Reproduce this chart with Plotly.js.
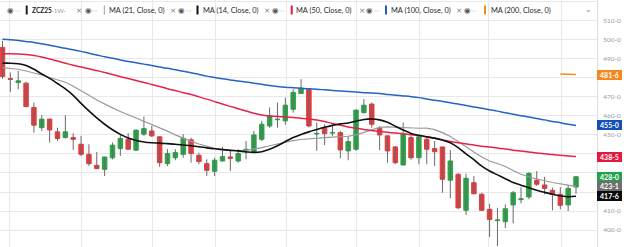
<!DOCTYPE html>
<html><head><meta charset="utf-8">
<script src="https://cdn.plot.ly/plotly-3.0.1.min.js"></script>
<style>html,body{margin:0;padding:0;background:#fff;overflow:hidden}#chart{width:624px;height:247px}</style>
</head><body><div id="chart"></div>
<script>
// ---- data (weekly ZCZ25 candles, oldest first) ----
const opens  = [496,479.6,477.5,477.2,464.4,453.8,458.3,451.6,448.6,448.6,445.1,439.8,434,431.9,438,442.8,447.7,442,450.4,452.1,449,434.9,438,439.8,447.4,439.3,434.9,430.9,436.3,438.4,436.3,442,441.2,447.7,454.7,458,457.4,463.5,471.8,474,450.5,453.5,451,451.2,441.6,442.5,461.7,466.2,453.5,449.5,443.7,434.2,448.6,438,447.7,442.8,443.7,426.2,429.3,410.4,424.9,418.8,410.9,405,404.4,413.2,416,417.4,426.2,423.7,420.9,418.8,413.2,422.6];
const highs  = [499.5,482.8,483.7,477.9,467,460.4,458.5,453.8,460.4,450.9,449.5,445.1,441,438.4,446,450.4,450.9,452.8,459.6,454.7,449.3,442.5,442.5,450.4,448.6,440.7,437.2,438,443.7,441.6,442.5,446.8,452.1,457.4,464.4,467,469.6,474,479.3,474.5,456.5,455.6,455.6,452.1,449.5,463.5,468.8,467,454.7,449.5,444,456.5,449.5,449.5,449,446.8,443.7,442,429.8,429.6,428.4,419.6,413.8,411.7,413.5,420.5,422.5,430.4,431,427.9,422.3,422.6,423.7,428.4];
const lows   = [479.5,472.6,474,464.5,451.2,452.1,446,446.8,448.1,442.1,438.9,433.7,432,428.4,437.2,439,442.1,441.6,449.5,448.9,433.2,433.7,436.7,438,435.4,434.6,428.4,428.4,436,431,435.4,437.2,440.7,446.8,453.8,453.8,455.3,461.7,471.5,454,441.6,444.7,449.5,437.7,436.7,441.6,461.2,453.8,442,435.4,434.6,434,437,434.6,434.6,433.7,419.6,416.7,411,407.9,418.8,410,396.3,391.6,401,403.5,414,416.2,423.2,418.8,410.4,410.9,410,419.1];
const closes = [480.7,479.2,478.4,464.9,455.1,458.3,452.6,448.1,451.6,447.7,439.8,434.9,432.3,438.4,444.6,448.1,442.5,452.5,453.3,449.5,435.4,440.2,440.7,448.2,440.2,436,431.4,436.7,438.6,437.7,440.2,442.4,450,455.6,460,458.2,465.6,472.3,474.6,454.7,450.8,450.7,451.2,442.1,446.5,463,465.6,455.6,450,441.6,435.4,450.4,438,449,442.5,441.2,426.7,436.3,411.7,427.2,419.1,410.4,405.6,405.3,411.2,419.6,416.4,429.8,424.1,421.9,418.8,413,421.9,428];

const ma14  = [487.7,487.7,487.4,486.5,484.5,482.0,479.7,477.0,474.2,470.8,466.6,462.6,458.9,455.6,452.7,450.3,448.4,447.1,446.3,445.9,445.7,445.4,445.1,444.7,444.3,443.8,443.2,442.7,442.3,441.9,441.6,441.1,440.8,441.2,442.5,444.3,446.5,448.6,450.2,451.6,452.8,454.0,455.0,455.8,456.3,457.2,458.1,458.4,457.9,456.6,454.6,452.6,450.8,449.8,449.0,448.3,447.3,445.9,443.3,440.0,437.0,433.6,431.0,429.0,427.0,425.0,423.6,422.2,420.9,419.8,418.8,418.0,417.5,417.75];
const ma21  = [485.4,485.0,484.5,483.6,482.7,481.5,480.2,478.9,477.7,475.6,473.4,470.9,468.3,466.1,464.2,462.3,460.6,458.8,457.1,455.6,454.0,452.0,450.0,448.2,446.6,445.2,443.9,442.9,442.1,441.7,441.6,441.9,442.5,443.3,444.3,445.3,446.3,447.0,447.6,448.0,448.3,448.6,448.8,449.0,449.3,450.0,451.2,452.7,454.0,454.2,454.0,453.8,453.6,453.5,453.6,452.8,451.2,449.2,446.6,443.6,441.0,438.4,436.3,435.0,433.4,431.3,429.3,427.9,426.8,425.9,425.0,424.2,423.6,423.125];
const ma50  = [492.6,492.6,492.5,492.2,491.7,490.9,489.9,488.8,487.7,486.6,485.7,484.8,483.8,482.8,481.7,480.6,479.6,478.6,477.6,476.5,475.4,474.3,473.3,472.2,471.2,470.0,468.8,467.5,466.2,465.0,463.8,462.6,461.4,460.5,460.0,459.7,459.4,459.1,458.8,458.4,457.8,457.0,456.0,455.1,454.2,453.5,452.9,452.3,451.8,451.4,451.0,450.6,450.1,449.6,449.0,448.2,447.4,446.6,445.9,445.3,444.7,444.1,443.6,443.1,442.6,442.0,441.5,441.0,440.5,440.1,439.7,439.3,438.9,438.625];
const ma100 = [500.3,500.0,499.6,499.1,498.6,497.9,497.1,496.3,495.5,494.8,493.9,492.9,492.0,491.1,490.3,489.4,488.6,487.9,487.2,486.5,485.7,485.0,484.2,483.5,482.7,481.8,480.9,480.2,479.5,478.9,478.3,477.8,477.2,476.6,476.0,475.5,475.1,474.8,474.5,474.2,474.0,473.7,473.4,473.1,472.8,472.5,472.2,472.0,471.7,471.3,470.9,470.5,470.1,469.6,468.9,468.2,467.6,466.9,466.2,465.5,464.7,464.0,463.2,462.5,461.6,460.9,460.1,459.4,458.6,457.9,457.1,456.4,455.6,455.0];
const ma200 = [null,null,null,null,null,null,null,null,null,null,null,null,null,null,null,null,null,null,null,null,null,null,null,null,null,null,null,null,null,null,null,null,null,null,null,null,null,null,null,null,null,null,null,null,null,null,null,null,null,null,null,null,null,null,null,null,null,null,null,null,null,null,null,null,null,null,null,null,null,null,null,482.0,481.9,481.75];

// tick labels (those hidden behind the price boxes in the reference are left blank)
const priceTicks = [400,410,420,430,440,450,460,470,480,490,500,510,520];
const priceTickText = ['400-0','410-0','','','','450-0','460-0','470-0','','490-0','500-0','510-0','520-0'];
const monthGrid = [0.95,10,19.03,27.05,36.1,45.1,53.1,61.9,71.2];

const labelValues = [481.75,455.0,438.625,428.0,423.125,417.75];
const labelTexts  = ['481-6','455-0','438-5','428-0','423-1','417-6'];
const labelColors = ['#f5871f','#1150b8','#e5173f','#22a34a','#6e6e6e','#0a0a0a'];

const legendNames = ['ZCZ25','MA (21, Close, 0)','MA (14, Close, 0)','MA (50, Close, 0)','MA (100, Close, 0)','MA (200, Close, 0)'];
const legendColors = ['#222222','#9a9a9a','#111111','#e5173f','#1f5fc4','#f5871f'];

// ---- build ----
const idx = opens.map((_, i) => i);
const GREEN = '#27a547', RED = '#e63a3d';

const wx = [], wy = [];
idx.forEach(i => { wx.push(i, i, null); wy.push(lows[i], highs[i], null); });

const bodyHi = idx.map(i => Math.max(opens[i], closes[i]));
const bodyLo = idx.map(i => Math.min(opens[i], closes[i]));

const traces = [
  {type:'scatter', mode:'lines', x:wx, y:wy, line:{color:'#6a6a6a', width:1}, hoverinfo:'skip'},
  {type:'candlestick', x:idx, open:opens, high:bodyHi, low:bodyLo, close:closes,
   increasing:{line:{color:GREEN, width:1}, fillcolor:GREEN},
   decreasing:{line:{color:RED, width:1}, fillcolor:RED}, whiskerwidth:0, hoverinfo:'skip'},
  {type:'scatter', mode:'lines', x:idx, y:ma21, line:{color:'#9a9a9a', width:1.2}, hoverinfo:'skip'},
  {type:'scatter', mode:'lines', x:idx, y:ma50, line:{color:'#e5234a', width:1.5, shape:'spline'}, hoverinfo:'skip'},
  {type:'scatter', mode:'lines', x:idx, y:ma100, line:{color:'#2563c4', width:1.5, shape:'spline'}, hoverinfo:'skip'},
  {type:'scatter', mode:'lines', x:idx, y:ma14, line:{color:'#111111', width:1.6, shape:'spline'}, hoverinfo:'skip'},
  {type:'scatter', mode:'lines', x:idx, y:ma200, line:{color:'#f5871f', width:1.3}, hoverinfo:'skip'}
];

const PW = 597, PH = 247;
const px = p => p / PW;
const ly = 1 - 10 / PH;
const annotations = [];
const shapes = [];
function txt(p, t, o) {
  annotations.push(Object.assign({xref:'paper', yref:'paper', x:px(p), y:ly, text:t, showarrow:false,
    xanchor:'left', yanchor:'middle', font:{family:'Lato, sans-serif', size:7.4, color:'#2a2a2a'}}, o || {}));
}
const legendX = [
  {eye:10.7, dots:18.3, bar:26.7, text:30.2, x:null},
  {eye:88.3, dots:95, bar:104.3, text:107.3, x:79.3},
  {eye:181.5, dots:188.5, bar:197.5, text:200.8, x:173},
  {eye:275, dots:281.7, bar:291.7, text:294.3, x:266.7},
  {eye:370, dots:377.3, bar:386, text:388.6, x:362.3},
  {eye:467, dots:474, bar:485, text:488.5, x:459}
];
legendNames.forEach((name, k) => {
  const L = legendX[k];
  if (L.x !== null) txt(L.x, '×', {xanchor:'center', font:{family:'DejaVu Sans', size:7.5, color:'#777'}});
  txt(L.eye, '◉', {xanchor:'center', font:{family:'DejaVu Sans', size:7.5, color:'#555'}});
  txt(L.dots, '···', {xanchor:'center', font:{family:'DejaVu Sans', size:6, color:'#777'}});
  shapes.push({type:'rect', xref:'paper', yref:'paper', x0:px(L.bar - (k === 1 ? 0.5 : 1)), x1:px(L.bar + (k === 1 ? 0.5 : 1)),
    y0:1 - 14.5 / PH, y1:1 - 5.5 / PH, fillcolor:legendColors[k], line:{width:0}});
  if (k === 0) {
    txt(L.text, name, {font:{family:'Lato, sans-serif', size:6.6, color:'#222', weight:700}});
    txt(49.5, '·1W·', {font:{family:'Lato, sans-serif', size:6.3, color:'#999'}});
  } else {
    txt(L.text, name);
  }
});
txt(588.5, '⌄', {xanchor:'center', y:1 - 9 / PH, font:{family:'DejaVu Sans', size:8, color:'#888'}});

labelValues.forEach((v, k) => {
  annotations.push({xref:'paper', yref:'y', x:1, y:v, xanchor:'left', yanchor:'middle', text:labelTexts[k],
    showarrow:false, bgcolor:labelColors[k], borderwidth:0, borderpad:1, width:23, height:8,
    font:{family:'Lato, sans-serif', size:7, color:'#fff', weight:700}});
});

const layout = {
  width:624, height:247, margin:{l:0, r:27, t:0, b:0},
  paper_bgcolor:'#fff', plot_bgcolor:'#fff', showlegend:false,
  boxgap:0.2, boxgroupgap:0.29,
  font:{family:'Lato, sans-serif'},
  xaxis:{range:[-0.318, 75.67], rangeslider:{visible:false}, showticklabels:false, tickmode:'array', tickvals:monthGrid,
    showgrid:true, gridcolor:'#e8e8e8', gridwidth:1, zeroline:false, ticks:'', showline:false, fixedrange:true},
  yaxis:{side:'right', range:[391.1, 520.9], tickmode:'array', tickvals:priceTicks, ticktext:priceTickText,
    showgrid:true, gridcolor:'#e8e8e8', gridwidth:1, zeroline:false, ticks:'', showline:true, linecolor:'#dcdcdc', linewidth:1,
    tickfont:{family:'Lato, sans-serif', size:6.5, color:'#9a9a9a'}, ticklabelstandoff:4, fixedrange:true},
  annotations:annotations, shapes:shapes
};
Plotly.newPlot('chart', traces, layout, {staticPlot:true, displayModeBar:false});
</script></body></html>
